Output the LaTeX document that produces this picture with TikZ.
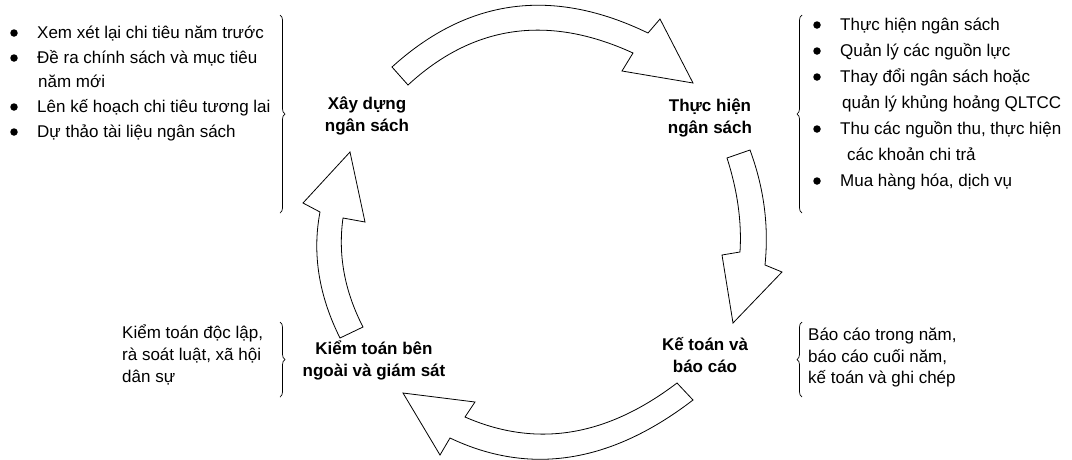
\documentclass[tikz,border=0pt]{standalone}
\usepackage{fontspec}
\setmainfont{Liberation Sans}
\usetikzlibrary{decorations.pathreplacing}
\begin{document}
\begin{tikzpicture}[x=1pt,y=-1pt,
  lst/.style={font=\fontsize{17}{22}\selectfont, anchor=base west, inner sep=0pt},
  lbl/.style={font=\fontsize{17}{22}\selectfont\bfseries, align=center, inner sep=0pt},
  bul/.style={circle, fill=black, inner sep=0pt, minimum size=7.5pt},
  brc/.style={decorate, decoration={brace, amplitude=5pt}, line width=0.7pt},
  arr/.style={draw=black, line width=0.8pt, fill=white, line join=miter}]
\useasboundingbox (0,0) rectangle (1072,459);

% ---- block arrows ----
% top
\draw[arr] (392,67) .. controls (468,-2) and (553,-13) .. (648,33)
  -- (660,19) -- (693,83) -- (622,71) -- (633,53)
  .. controls (548,14) and (473,25) .. (408,85) -- cycle;
% right
\draw[arr] (750,150) .. controls (764,188) and (769,226) .. (765,265)
  -- (782,272) -- (733,323) -- (722,255) -- (740,252)
  .. controls (742,221) and (737,189) .. (727,158) -- cycle;
% bottom
\draw[arr] (693,400) .. controls (611,463) and (530,476) .. (450,438)
  -- (440,455) -- (403,393) -- (475,402) -- (465,417)
  .. controls (536,448) and (606,437) .. (677,383) -- cycle;
% left
\draw[arr] (340,338) .. controls (319,296) and (312,254) .. (320,212)
  -- (303,203) -- (350,152) -- (365,222) -- (343,218)
  .. controls (338,254) and (344,290) .. (363,327) -- cycle;

% ---- stage labels ----
\node[lbl] (xd) at (367,116) {Xây dựng\\ngân sách};
\node[lbl] (th) at (710,118) {Thực hiện\\ngân sách};
\node[lbl] (kt) at (705,355) {Kế toán và\\báo cáo};
\node[lbl] (ks) at (374,360) {Kiểm toán bên\\ngoài và giám sát};

% ---- left list ----
\node[bul] (b1) at (14,33) {};
\node[lst] (l1) at (37,38) {Xem xét lại chi tiêu năm trước};
\node[bul] (b2) at (14,58) {};
\node[lst] (l2) at (37,63) {Đề ra chính sách và mục tiêu};
\node[lst] (l2b) at (38,87) {năm mới};
\node[bul] (b3) at (14,107) {};
\node[lst] (l3) at (37,112) {Lên kế hoạch chi tiêu tương lai};
\node[bul] (b4) at (14,132) {};
\node[lst] (l4) at (37,137) {Dự thảo tài liệu ngân sách};
\coordinate (lbt) at (280,15);
\coordinate (lbb) at (280,213);
\draw[brc] (lbt) -- (lbb);

% ---- right list ----
\node[bul] (r1b) at (817,25) {};
\node[lst] (r1) at (840,30) {Thực hiện ngân sách};
\node[bul] (r2b) at (817,51) {};
\node[lst] (r2) at (840,56) {Quản lý các nguồn lực};
\node[bul] (r3b) at (817,77) {};
\node[lst] (r3) at (840,82) {Thay đổi ngân sách hoặc};
\node[lst] (r3c) at (842,108) {quản lý khủng hoảng QLTCC};
\node[bul] (r4b) at (817,129) {};
\node[lst] (r4) at (840,134) {Thu các nguồn thu, thực hiện};
\node[lst] (r4c) at (847,160) {các khoản chi trả};
\node[bul] (r5b) at (817,181) {};
\node[lst] (r5) at (840,186) {Mua hàng hóa, dịch vụ};
\coordinate (rbt) at (802,15);
\coordinate (rbb) at (802,213);
\draw[brc] (rbb) -- (rbt);

% ---- lower side notes ----
\node[lst] (a1) at (122,338) {Kiểm toán độc lập,};
\node[lst] (a2) at (122,360) {rà soát luật, xã hội};
\node[lst] (a3) at (122,382) {dân sự};
\coordinate (abt) at (280,322);
\coordinate (abb) at (280,397);
\draw[brc] (abt) -- (abb);

\node[lst] (c1) at (808,340) {Báo cáo trong năm,};
\node[lst] (c2) at (808,362) {báo cáo cuối năm,};
\node[lst] (c3) at (808,383) {kế toán và ghi chép};
\coordinate (cbt) at (802,322);
\coordinate (cbb) at (802,397);
\draw[brc] (cbb) -- (cbt);
\end{tikzpicture}
\end{document}
